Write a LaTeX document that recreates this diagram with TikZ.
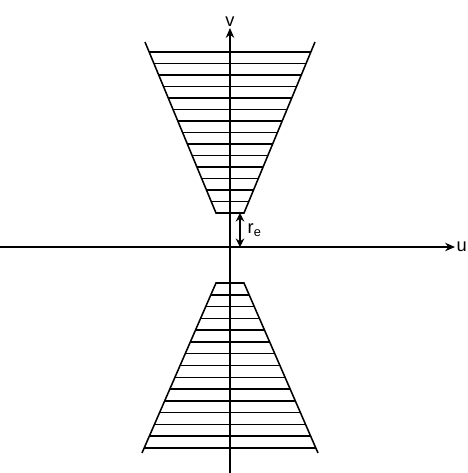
\documentclass[tikz,border=0pt]{standalone}
\usepackage{fontspec}
\setmainfont{Liberation Sans}
\usetikzlibrary{arrows.meta, calc}

\begin{document}
\begin{tikzpicture}[
    axis/.style={
        -{Stealth[length=7pt,width=6pt]},
        line width=1.1pt
    },
    hatch/.style={
        line width=1.1pt
    },
    gap/.style={
        {Stealth[length=6pt,width=6pt]}-{Stealth[length=6pt,width=6pt]},
        line width=1.1pt
    },
    axislabel/.style={
        font=\fontsize{13}{15}\selectfont,
        inner sep=1pt
    }
]

\useasboundingbox (-5.75,-5.65) rectangle (5.95,6.175);

% Axes
\coordinate (ustart) at (-5.75,0);
\coordinate (uend) at (5.625,0);
\coordinate (vstart) at (0,-5.65);
\coordinate (vend) at (0,5.475);
\draw[axis] (ustart) -- (uend);
\draw[axis] (vstart) -- (vend);
\node[axislabel, anchor=west] (ulabel) at (uend) {u};
\node[axislabel, anchor=south] (vlabel) at (vend) {v};

% Upper cone
\coordinate (ul) at (-2.125,5.125);
\coordinate (ur) at (2.125,5.125);
\coordinate (ubl) at (-0.35,0.85);
\coordinate (ubr) at (0.35,0.85);
\draw[hatch] (ul) -- (ubl) -- (ubr) -- (ur);
\foreach \i in {1,...,14}
    \draw[hatch] ({-0.35-0.1194*\i},{0.85+0.2875*\i}) -- ({0.35+0.1194*\i},{0.85+0.2875*\i});

% Lower cone
\coordinate (ll) at (-2.2,-5.15);
\coordinate (lr) at (2.2,-5.15);
\coordinate (ltl) at (-0.35,-0.9);
\coordinate (ltr) at (0.35,-0.9);
\draw[hatch] (ll) -- (ltl) -- (ltr) -- (lr);
\foreach \i in {1,...,14}
    \draw[hatch] ({-0.35-0.1282*\i},{-0.9-0.2946*\i}) -- ({0.35+0.1282*\i},{-0.9-0.2946*\i});

% Gap r_e
\coordinate (rtop) at (0.25,0.85);
\coordinate (rbot) at (0.25,0);
\draw[gap] (rtop) -- (rbot);
\node[axislabel, anchor=west] (relabel) at ($(rtop)!0.5!(rbot)+(0.15,0)$) {r\textsubscript{e}};

\end{tikzpicture}
\end{document}
